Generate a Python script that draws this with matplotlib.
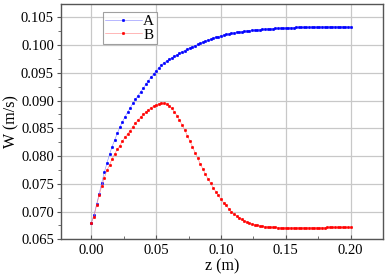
import numpy as np
import matplotlib
matplotlib.use("Agg")
import matplotlib.pyplot as plt
from matplotlib.ticker import MultipleLocator, FormatStrFormatter

plt.rcParams['font.family'] = ['Liberation Serif', 'DejaVu Serif']

# -----------------------------
# Data (z step 0.002 m)
# -----------------------------
z = np.arange(101) * 0.002

w_a = [0.0680, 0.0694, 0.0713, 0.0732, 0.0752, 0.0771, 0.0787, 0.0803, 0.0817, 0.0829,
       0.0841, 0.0852, 0.0862, 0.0871, 0.0879, 0.0887, 0.0895, 0.0902, 0.0909, 0.0916,
       0.0922, 0.0929, 0.0936, 0.0942, 0.0948, 0.0954, 0.0959, 0.0964, 0.0968, 0.0971,
       0.0974, 0.0977, 0.0980, 0.0982, 0.0985, 0.0988, 0.0990, 0.0993, 0.0995, 0.0997,
       0.0999, 0.1001, 0.1003, 0.1005, 0.1007, 0.1009, 0.1010, 0.1012, 0.1014, 0.1015,
       0.1017, 0.1018, 0.1019, 0.10200, 0.10210, 0.10218, 0.10226, 0.10233, 0.10240, 0.10246,
       0.10252, 0.10258, 0.10263, 0.10268, 0.10273, 0.10277, 0.10281, 0.10285, 0.10289, 0.10292,
       0.10295, 0.10298, 0.10301, 0.10304, 0.10306, 0.10308, 0.10310, 0.10312, 0.10314, 0.10316,
       0.10318, 0.10319, 0.10320, 0.10321, 0.10322, 0.10323, 0.10324, 0.10325, 0.10326, 0.10327,
       0.10327, 0.10328, 0.10328, 0.10329, 0.10329, 0.10329, 0.10328, 0.10328, 0.10327, 0.10326,
       0.10325]

w_b = [0.0680, 0.0691, 0.0711, 0.0729, 0.0746, 0.0761, 0.0774, 0.0784, 0.0795, 0.0804,
       0.0812, 0.0819, 0.0827, 0.0834, 0.0840, 0.0846, 0.0853, 0.0859, 0.0865, 0.0870,
       0.0875, 0.0879, 0.0883, 0.0887, 0.0890, 0.0892, 0.0894, 0.0895, 0.0895, 0.0894,
       0.0891, 0.0886, 0.0880, 0.0873, 0.0865, 0.0856, 0.0847, 0.0837, 0.0827, 0.0817,
       0.0806, 0.0796, 0.0786, 0.0777, 0.0767, 0.0759, 0.0751, 0.0743, 0.0736, 0.0729,
       0.0722, 0.0716, 0.0711, 0.0705, 0.0700, 0.0696, 0.0692, 0.0689, 0.0686, 0.0683,
       0.0681, 0.0679, 0.06775, 0.06763, 0.06752, 0.06743, 0.06736, 0.06730, 0.06725, 0.06721,
       0.06718, 0.06715, 0.06713, 0.06711, 0.06710, 0.06709, 0.06708, 0.06708, 0.06708, 0.06708,
       0.06709, 0.06709, 0.06710, 0.06710, 0.06711, 0.06711, 0.06712, 0.06712, 0.06713, 0.06713,
       0.06713, 0.06714, 0.06714, 0.06714, 0.06715, 0.06715, 0.06715, 0.06715, 0.06716, 0.06716,
       0.06716]

# -----------------------------
# Plot
# -----------------------------
fig = plt.figure(figsize=(3.88, 2.78), dpi=100)
ax = fig.add_axes([0.157, 0.139, 0.830, 0.847])

ax.plot(z, w_a, color="#8080ff", lw=0.4, marker="o", ms=1.9,
        mec="#0000ff", mfc="#0000ff", mew=0.3, label="A")
ax.plot(z, w_b, color="#ff8080", lw=0.4, marker="o", ms=1.9,
        mec="#ff0000", mfc="#ff0000", mew=0.3, label="B")

ax.set_xlim(-0.0235, 0.225)
ax.set_ylim(0.065, 0.1074)
ax.set_xticks([0.00, 0.05, 0.10, 0.15, 0.20])
ax.set_yticks([0.065, 0.070, 0.075, 0.080, 0.085, 0.090, 0.095, 0.100, 0.105])
ax.xaxis.set_minor_locator(MultipleLocator(0.025))
ax.yaxis.set_minor_locator(MultipleLocator(0.0025))
ax.xaxis.set_major_formatter(FormatStrFormatter("%.2f"))
ax.yaxis.set_major_formatter(FormatStrFormatter("%.3f"))

ax.grid(True, which="major", color="#c8c8c8", lw=0.9)
ax.set_axisbelow(True)
ax.tick_params(axis="x", which="both", direction="in", labelsize=10.5, color="#555555")
ax.tick_params(axis="y", which="both", direction="out", labelsize=10.5, color="#555555",
               pad=2)
ax.tick_params(which="major", length=3)
ax.tick_params(which="minor", length=2)
for s in ax.spines.values():
    s.set_color("#555555")
    s.set_linewidth(1.0)

ax.set_xlabel("z (m)", fontsize=11.5, labelpad=1)
ax.set_ylabel("W (m/s)", fontsize=11.5, labelpad=1)

leg = ax.legend(loc="upper left", bbox_to_anchor=(0.13, 0.965), fontsize=11,
                frameon=True, fancybox=False, handlelength=2.4, handletextpad=0.1,
                borderpad=0.15, labelspacing=0.0, borderaxespad=0, markerscale=1.0)
leg.get_frame().set_edgecolor("#888888")
leg.get_frame().set_linewidth(0.8)

fig.savefig("out.png", dpi=100)
